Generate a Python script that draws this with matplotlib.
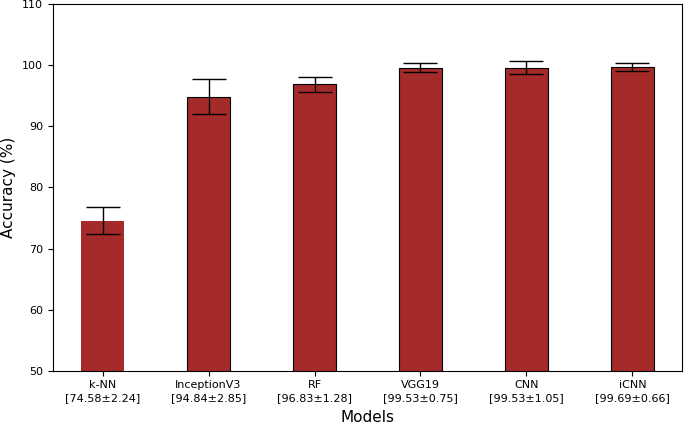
import matplotlib
matplotlib.use("Agg")
import matplotlib.pyplot as plt

models = ["k-NN", "InceptionV3", "RF", "VGG19", "CNN", "iCNN"]
means = [74.58, 94.84, 96.83, 99.53, 99.53, 99.69]
stds = [2.24, 2.85, 1.28, 0.75, 1.05, 0.66]
labels = [f"{m}\n[{v:.2f}±{s:.2f}]" for m, v, s in zip(models, means, stds)]

fig = plt.figure(figsize=(6.85, 4.25), dpi=100)
ax = fig.add_axes([0.077, 0.127, 0.919, 0.864])
x = list(range(len(models)))
edges = ["none"] + ["black"] * (len(models) - 1)
bars = ax.bar(x, means, width=0.4, color="#a52a2a", edgecolor=edges, linewidth=0.8)
ax.errorbar(x, means, yerr=stds, fmt="none", ecolor="black", capsize=12, elinewidth=1.0, capthick=1.0)
ax.set_ylim(50, 110)
ax.set_xticks(x)
ax.set_xticklabels(labels, fontsize=8, linespacing=1.35)
ax.tick_params(axis="x", pad=3)
ax.tick_params(axis="y", labelsize=8)
ax.set_xlabel("Models", fontsize=11, labelpad=5)
ax.set_ylabel("Accuracy (%)", fontsize=11)
fig.savefig("out.png", dpi=100)
